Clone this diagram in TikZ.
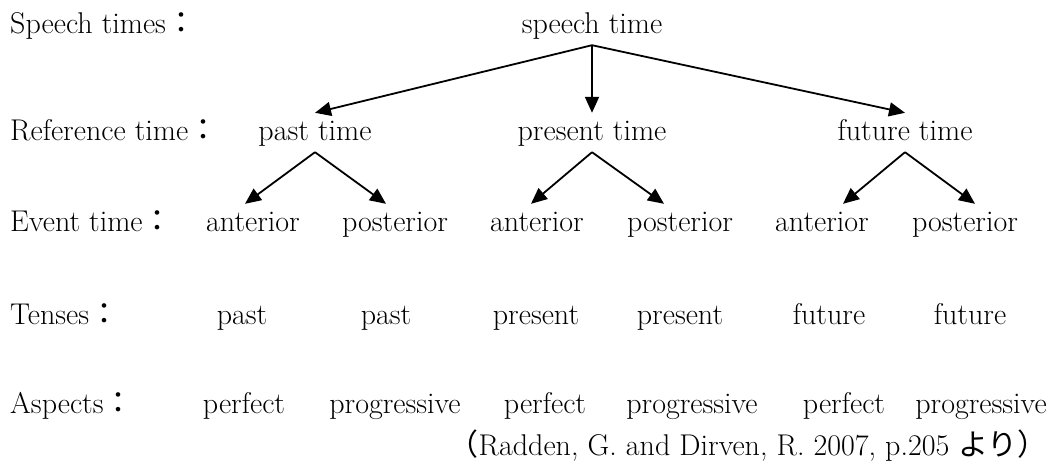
\documentclass[tikz,border=0pt]{standalone}
\usepackage{fontspec}
\newfontfamily\cjk{Noto Sans CJK JP}
\usetikzlibrary{arrows.meta}

\begin{document}
\begin{tikzpicture}[x=1pt,y=-1pt,
  every node/.style={font=\fontsize{30}{36}\selectfont, inner xsep=0pt, inner ysep=5pt,
                     text height=22pt, text depth=7pt},
  lbl/.style={anchor=base west},
  itm/.style={anchor=base},
  arr/.style={-{Triangle[length=16pt,width=14pt]}, line width=1.8pt}]
\useasboundingbox (0,0) rectangle (1052,466);

% row labels
\node[lbl] (lspeech) at (10,33)  {Speech times{\cjk ：}};
\node[lbl] (lref)    at (10,140) {Reference time{\cjk ：}};
\node[lbl] (levent)  at (10,231) {Event time{\cjk ：}};
\node[lbl] (ltense)  at (10,324) {Tenses{\cjk ：}};
\node[lbl] (laspect) at (10,413) {Aspects{\cjk ：}};

% speech time and reference times
\node[itm] (st)  at (592,33)  {speech time};
\node[itm] (pt)  at (315,140) {past time};
\node[itm] (prt) at (592,140) {present time};
\node[itm] (ft)  at (905,140) {future time};

% event times
\node[itm] (e1) at (253,231) {anterior};
\node[itm] (e2) at (395,231) {posterior};
\node[itm] (e3) at (537,231) {anterior};
\node[itm] (e4) at (680,231) {posterior};
\node[itm] (e5) at (822,231) {anterior};
\node[itm] (e6) at (965,231) {posterior};

% tenses
\node[itm] (t1) at (242,324) {past};
\node[itm] (t2) at (386,324) {past};
\node[itm] (t3) at (536,324) {present};
\node[itm] (t4) at (680,324) {present};
\node[itm] (t5) at (829,324) {future};
\node[itm] (t6) at (970,324) {future};

% aspects
\node[itm] (a1) at (244,413) {perfect};
\node[itm] (a2) at (395,413) {progressive};
\node[itm] (a3) at (545,413) {perfect};
\node[itm] (a4) at (692,413) {progressive};
\node[itm] (a5) at (844,413) {perfect};
\node[itm] (a6) at (981,413) {progressive};

% source
\node[anchor=base east] (src) at (1048,455)
  {{\cjk （}Radden, G. and Dirven, R. 2007, p.205 {\cjk より）}};

% speech time -> reference times
\draw[arr] (st.south) -- (pt.north);
\draw[arr] (st.south) -- (prt.north);
\draw[arr] (st.south) -- (ft.north);

% reference times -> event times
\draw[arr] (pt.south)  -- ([xshift=-8pt]e1.north);
\draw[arr] (pt.south)  -- ([xshift=-9pt]e2.north);
\draw[arr] (prt.south) -- ([xshift=-6pt]e3.north);
\draw[arr] (prt.south) -- ([xshift=-16pt]e4.north);
\draw[arr] (ft.south)  -- ([xshift=21pt]e5.north);
\draw[arr] (ft.south)  -- ([xshift=10pt]e6.north);
\end{tikzpicture}
\end{document}
